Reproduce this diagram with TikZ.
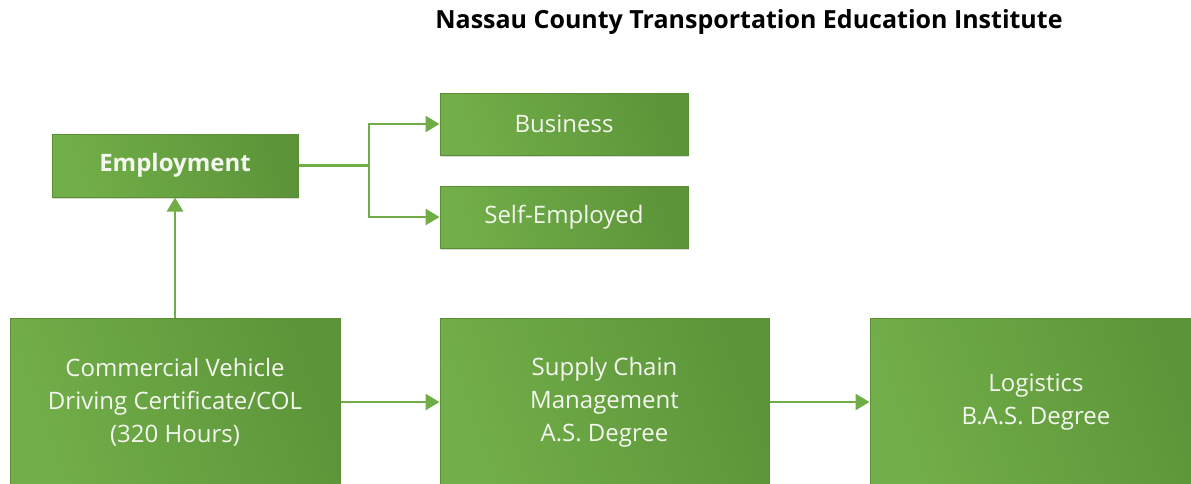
\documentclass[tikz,border=0pt]{standalone}
\usepackage{fontspec}
\setmainfont{Open Sans}
\usetikzlibrary{arrows.meta,shadows}
\definecolor{gLight}{HTML}{72AE49}
\definecolor{gDark}{HTML}{5C9539}
\definecolor{gEdge}{HTML}{5A8F36}
\definecolor{gArrow}{HTML}{70AD47}
\definecolor{boxText}{HTML}{F4F7F0}
\tikzset{
  greenbox/.style={rectangle, draw=gEdge, line width=1pt,
    left color=gLight, right color=gDark, shading angle=110,
    text=boxText, align=center, inner sep=0pt,
    font=\fontsize{24}{33}\selectfont,
    drop shadow={shadow xshift=1pt, shadow yshift=-2pt, opacity=0.15, fill=black}},
  flow/.style={draw=gArrow, line width=2.8pt,
    -{Triangle[length=14pt,width=16pt]}},
  titletext/.style={font=\bfseries\fontsize{25}{29}\selectfont, text=black}
}
\begin{document}
\begin{tikzpicture}[x=1pt,y=-1pt]
\useasboundingbox (0,0) rectangle (1191,483);
\clip (0,0) rectangle (1191,483);
\fill[white] (0,0) rectangle (1191,483);
\node[titletext] (title) at (749,22) {Nassau County Transportation Education Institute};
\node[greenbox, minimum width=246pt, minimum height=63pt, font=\bfseries\fontsize{24}{33}\selectfont] (emp) at (175,165.5) {Employment};
\node[greenbox, minimum width=248pt, minimum height=62pt] (bus) at (564,124) {Business};
\node[greenbox, minimum width=248pt, minimum height=62pt] (self) at (564,217) {Self-Employed};
\node[greenbox, minimum width=330pt, minimum height=168pt] (cv) at (175,402) {Commercial Vehicle\\Driving Certificate/COL\\(320 Hours)};
\node[greenbox, minimum width=329pt, minimum height=168pt] (scm) at (604.5,402) {Supply Chain\\Management\\A.S. Degree};
\node[greenbox, minimum width=332pt, minimum height=168pt] (log) at (1036,402) {Logistics\\B.A.S. Degree};
\coordinate (split) at (369,165.5);
\draw[draw=gArrow, line width=2.8pt] (emp.east) -- (split);
\draw[flow] (split) |- (bus.west);
\draw[flow] (split) |- (self.west);
\draw[flow] (cv.north) -- (emp.south);
\draw[flow] (cv.east) -- (scm.west);
\draw[flow] (scm.east) -- (log.west);
\end{tikzpicture}
\end{document}
